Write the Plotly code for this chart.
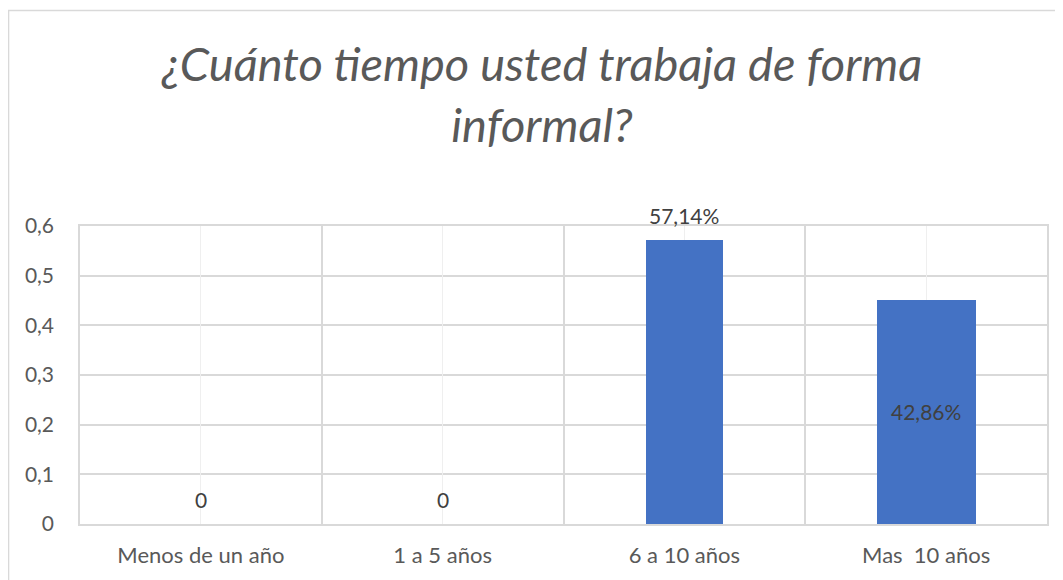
import plotly.graph_objects as go

categories = ["Menos de un año", "1 a 5 años", "6 a 10 años", "Mas  10 años"]
values = [0, 0, 0.5714, 0.452]
labels = ["0", "0", "57,14%", "42,86%"]
label_pos = ["outside", "outside", "outside", "center"]
bar_widths = [0.32, 0.32, 0.32, 0.41]
yticks = [0, 0.1, 0.2, 0.3, 0.4, 0.5, 0.6]

FONT = "Lato"
BLUE = "#4472C4"
GRID = "#d9d9d9"

fig = go.Figure()
fig.add_trace(go.Bar(
    x=categories, y=values, width=bar_widths,
    marker=dict(color=BLUE, line=dict(width=0)),
    hoverinfo="skip", showlegend=False,
))
# invisible trace to carry light center gridlines
fig.add_trace(go.Scatter(
    x=categories, y=[0] * len(categories), xaxis="x2", mode="markers",
    marker=dict(opacity=0), hoverinfo="skip", showlegend=False,
))

annotations = []
for c, v, t, p in zip(categories, values, labels, label_pos):
    if p == "outside":
        annotations.append(dict(x=c, y=v, text=t, showarrow=False, yshift=25,
                                font=dict(family=FONT, size=21, color="#404040")))
    else:
        annotations.append(dict(x=c, y=v / 2, text=t, showarrow=False,
                                font=dict(family=FONT, size=21, color="#404040")))

fig.update_layout(
    width=1055, height=572,
    margin=dict(l=72, r=16, t=218, b=56, autoexpand=False),
    paper_bgcolor="white", plot_bgcolor="white",
    separators=",.",
    bargap=0,
    title=dict(
        text="¿Cuánto tiempo usted trabaja de forma<br>informal?",
        x=(542 - 8) / 1055, xanchor="center", y=0.872, yanchor="top",
        font=dict(family=FONT, size=47, color="#595959", style="italic"),
    ),
    xaxis=dict(
        type="category", categoryarray=categories, range=[-0.5, 3.5],
        tickson="boundaries", ticks="", showgrid=True, gridcolor=GRID, gridwidth=1.5,
        showline=True, linecolor=GRID, linewidth=1.5, mirror=True,
        tickfont=dict(family=FONT, size=22, color="#595959"),
        ticklabelstandoff=11, zeroline=False, automargin=False,
    ),
    xaxis2=dict(
        type="category", categoryarray=categories, range=[-0.5, 3.5],
        overlaying="x", showgrid=True, gridcolor="#efefef", gridwidth=1,
        showticklabels=False, ticks="", showline=False, zeroline=False,
    ),
    yaxis=dict(
        range=[0, 0.6], tickvals=yticks, tickformat="~g",
        showgrid=True, gridcolor=GRID, gridwidth=1.5,
        showline=True, linecolor=GRID, linewidth=1.5, mirror=True,
        zeroline=False, ticks="", automargin=False,
        tickfont=dict(family=FONT, size=21, color="#595959"),
        ticklabelstandoff=20,
    ),
    annotations=annotations,
    shapes=[dict(type="rect", xref="paper", yref="paper",
                 x0=-0.0739, x1=1.5, y0=-1.0, y1=1.723,
                 line=dict(color=GRID, width=1.5), layer="below")],
)

fig.write_html("out.html")
